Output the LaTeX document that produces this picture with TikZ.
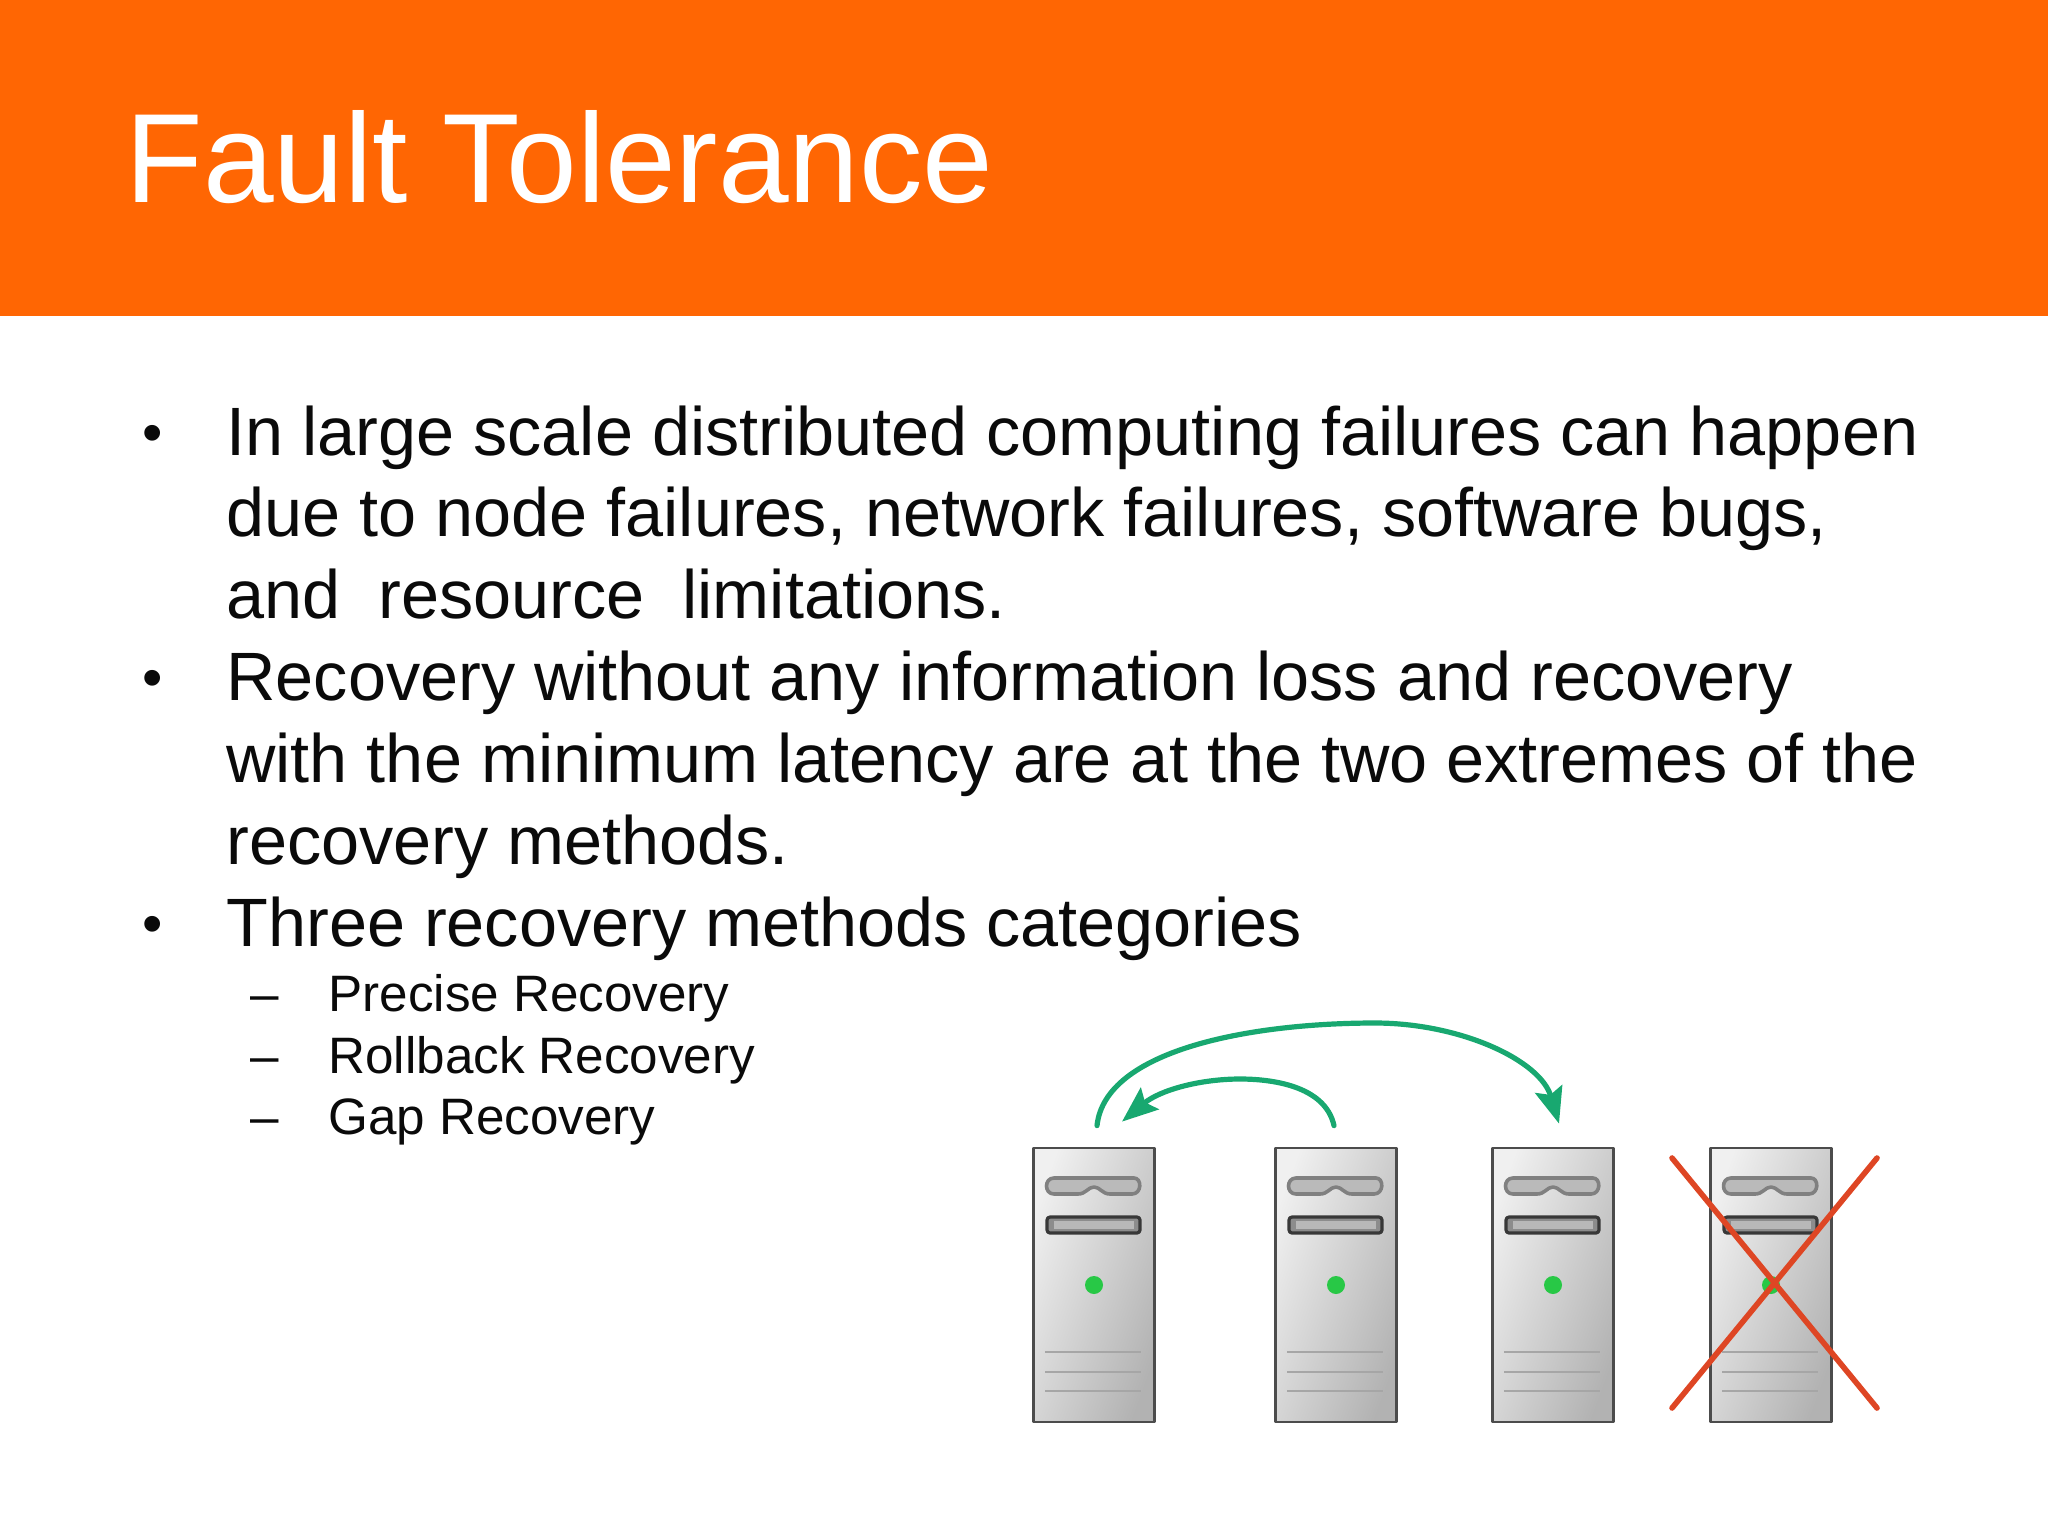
\documentclass[tikz,border=0pt]{standalone}
\usepackage{fontspec}
\setmainfont{Liberation Sans}
\usetikzlibrary{arrows.meta,calc}
\definecolor{bannerorange}{RGB}{255,102,3}
\definecolor{arcgreen}{RGB}{24,168,112}
\definecolor{ledgreen}{RGB}{40,200,70}
\definecolor{crossred}{RGB}{222,70,36}
\definecolor{bodyblack}{RGB}{10,10,10}
\tikzset{
    titletext/.style={anchor=base west, inner sep=0pt, text=white, font=\fontsize{63.5}{70}\selectfont},
    bodytext/.style={anchor=base west, inner sep=0pt, text=bodyblack, font=\fontsize{34.2}{40}\selectfont},
    dottext/.style={anchor=base, inner sep=0pt, text=bodyblack, font=\fontsize{29}{40}\selectfont},
    subtext/.style={anchor=base west, inner sep=0pt, text=bodyblack, font=\fontsize{25.6}{30}\selectfont},
    server/.style={draw=black!70, line width=1.4pt, minimum width=60.5pt, minimum height=137pt, inner sep=0pt,
        left color=white!94!black, right color=black!30, shading angle=70},
    arc/.style={draw=arcgreen, line width=2.6pt, line cap=round, -{Stealth[length=18pt,width=14pt,inset=3pt]}}
}
\begin{document}
\begin{tikzpicture}[x=0.5pt, y=-0.5pt, line join=round]
    \useasboundingbox (0,0) rectangle (2048,1536);
    \fill[bannerorange] (0,0) rectangle (2048,316);
    \node[titletext] (title) at (125,202) {Fault Tolerance};
    % bullets
    \foreach \i/\yb in {1/452,2/697,3/943}
        \node[dottext] (dot\i) at (153,\yb) {•};
    \node[bodytext] (l1) at (226,455) {In large scale distributed computing failures can happen};
    \node[bodytext] (l2) at (226,536) {due to node failures, network failures, software bugs,};
    \node[bodytext] (l3) at (226,618) {and\ \ resource\ \ limitations.};
    \node[bodytext] (l4) at (226,700) {Recovery without any information loss and recovery};
    \node[bodytext] (l5) at (226,782) {with the minimum latency are at the two extremes of the};
    \node[bodytext] (l6) at (226,864) {recovery methods.};
    \node[bodytext] (l7) at (226,946) {Three recovery methods categories};
    \foreach \i/\yb/\txt in {1/1011/Precise Recovery,2/1073/Rollback Recovery,3/1134/Gap Recovery} {
        \node[subtext] (dash\i) at (250,\yb) {–};
        \node[subtext] (sub\i) at (328,\yb) {\txt};
    }
    % servers
    \foreach \i/\xs in {1/1094,2/1336,3/1553,4/1771} {
        \node[server] (srv\i) at (\xs,1285) {};
        \begin{scope}[shift={(srv\i.center)}]
            \draw[draw=black!50, fill=black!27, line width=1.8pt]
                (-40,-107) -- (40,-107) .. controls (48,-107) and (48,-91) .. (38,-91) -- (16,-91)
                .. controls (8,-91) and (6,-98) .. (0,-98) .. controls (-6,-98) and (-8,-91) .. (-16,-91)
                -- (-40,-91) .. controls (-50,-91) and (-50,-107) .. (-40,-107) -- cycle;
            \draw[draw=black!78, fill=black!45, line width=1.6pt, rounded corners=1.5pt] (-47,-68) rectangle (46,-52);
            \fill[black!28] (-40,-64) rectangle (40,-56);
            \fill[ledgreen] (0,0) circle (9);
            \foreach \yl in {67,87,106}
                \draw[black!35, line width=1.2pt] (-49,\yl) -- (47,\yl);
        \end{scope}
    }
    % arcs
    \coordinate (a1) at ($(srv1.north)+(3,-21)$);
    \coordinate (a2) at (1375,1023);
    \coordinate (a3) at ($(srv3.north)+(6,-23)$);
    \coordinate (b1) at ($(srv2.north)+(-2,-21)$);
    \coordinate (b2) at (1240,1079);
    \coordinate (b3) at ($(srv1.north)+(28,-25)$);
    \path[arc] (a1) .. controls (1105,1050) and (1250,1023) .. (a2)
        .. controls (1460,1023) and (1540,1060) .. (a3);
    \path[arc] (b1) .. controls (1325,1085) and (1270,1079) .. (b2)
        .. controls (1200,1079) and (1160,1090) .. (b3);
    % cross
    \coordinate (c1) at ($(srv4.center)+(-99,-127)$);
    \coordinate (c2) at ($(srv4.center)+(106,123)$);
    \coordinate (c3) at ($(srv4.center)+(106,-127)$);
    \coordinate (c4) at ($(srv4.center)+(-99,123)$);
    \draw[crossred, line width=2.8pt, line cap=round] (c1) -- (c2) (c3) -- (c4);
\end{tikzpicture}
\end{document}
